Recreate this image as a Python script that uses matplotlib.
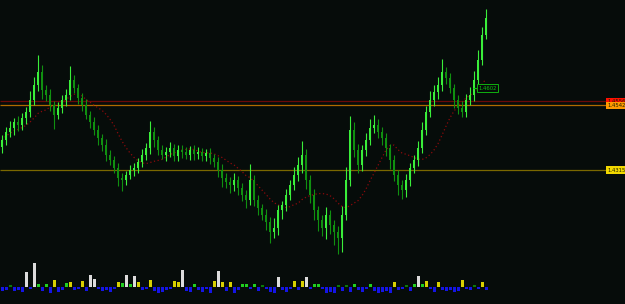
import numpy as np
import pandas as pd
import matplotlib
matplotlib.use("Agg")
import matplotlib.pyplot as plt

# ---------------- data (prices in pips, 1.4315 -> 14315) ----------------
first_open = 14395
closes = [14420, 14448, 14462, 14483, 14472, 14497, 14518, 14560, 14612, 14658,
          14595, 14578, 14542, 14508, 14532, 14560, 14578, 14630, 14602, 14567,
          14542, 14508, 14483, 14455, 14427, 14402, 14368, 14350, 14322, 14287,
          14280, 14298, 14315, 14322, 14343, 14368, 14392, 14448, 14420, 14385,
          14368, 14378, 14392, 14364, 14385, 14378, 14368, 14385, 14371, 14378,
          14364, 14374, 14357, 14343, 14315, 14287, 14273, 14262, 14280, 14252,
          14228, 14210, 14280, 14210, 14182, 14158, 14133, 14098, 14112, 14175,
          14192, 14228, 14262, 14298, 14332, 14368, 14280, 14228, 14175, 14140,
          14112, 14158, 14122, 14098, 14077, 14158, 14280, 14455, 14385, 14332,
          14385, 14420, 14462, 14472, 14448, 14427, 14392, 14350, 14298, 14262,
          14245, 14280, 14322, 14350, 14392, 14455, 14518, 14560, 14588, 14612,
          14658, 14637, 14602, 14560, 14532, 14518, 14560, 14578, 14630, 14700,
          14788, 14847]
upper_wick = [19, 16, 24, 13, 22, 16, 19, 32, 29, 60,
              24, 16, 19, 13, 22, 16, 19, 50, 19, 13,
              16, 22, 13, 19, 16, 13, 22, 16, 13, 19,
              16, 13, 19, 16, 13, 22, 19, 40, 16, 13,
              19, 16, 22, 13, 16, 19, 16, 13, 16, 19,
              13, 16, 19, 13, 16, 22, 19, 16, 26, 13,
              19, 16, 55, 19, 16, 13, 22, 16, 35, 19,
              16, 22, 19, 26, 29, 50, 19, 16, 22, 13,
              19, 29, 16, 19, 22, 32, 45, 50, 29, 22,
              19, 26, 32, 35, 22, 19, 16, 13, 19, 16,
              19, 22, 16, 19, 26, 29, 22, 32, 26, 29,
              45, 19, 16, 13, 19, 26, 22, 29, 32, 35,
              29, 32]
lower_wick = [22, 19, 16, 26, 19, 16, 22, 19, 16, 19,
              32, 22, 19, 48, 16, 19, 22, 19, 16, 22,
              19, 16, 22, 19, 26, 19, 22, 16, 19, 29,
              40, 19, 16, 22, 19, 16, 19, 22, 26, 19,
              16, 22, 19, 16, 19, 22, 16, 19, 22, 16,
              19, 16, 22, 19, 26, 32, 22, 29, 19, 26,
              22, 29, 19, 22, 26, 19, 29, 40, 22, 26,
              32, 22, 19, 16, 22, 26, 32, 29, 35, 38,
              29, 40, 32, 45, 55, 48, 19, 22, 26, 29,
              19, 22, 19, 16, 22, 26, 29, 32, 22, 35,
              32, 26, 22, 19, 22, 16, 19, 16, 22, 26,
              19, 22, 19, 29, 22, 19, 16, 19, 22, 16,
              19, 16]
volume_osc = [-4, -3, 2, -4, -3, -5, 15, -2, 24, 3,
              -4, 3, -6, 7, -5, -3, 4, 5, -3, -2,
              6, -4, 12, 8, -2, -4, -3, -5, -2, 5,
              4, 12, 3, 11, 5, -3, -2, 7, -4, -6,
              -5, -3, -2, 6, 5, 17, -4, -5, 3, -3,
              -5, -2, -6, 6, 16, 5, -4, 5, -6, -3,
              3, 3, -2, 3, -4, 2, -2, -5, -6, 10,
              -3, -5, -2, 6, -3, 6, 10, -2, 3, 3,
              -2, -6, -5, -6, 2, -4, 2, -5, 3, -3,
              -5, -2, 3, -4, -6, -5, -4, -6, 5, -3,
              -2, 2, -4, 3, 11, 3, 6, -2, -5, 5,
              -3, -4, -3, -5, -4, 7, -2, -3, 2, -2,
              5, -3]
level_prices = [14556, 14542, 14315]
level_labels = ["1.4556", "1.4542", "1.4315"]
marker_price = 14602
marker_label = "1.4602"
ma_period = 12

# ---------------- styling ----------------
BG = "#060c0a"
UP = "#3aee3a"
DOWN = "#109010"
line_colors = ["#6a0808", "#b06a00", "#7a6800"]
box_colors = ["#ff1000", "#ff9a00", "#f2d800"]

n = len(closes)
idx = np.arange(n)
c = np.array(closes, float) / 10000
o = np.concatenate([[first_open], closes[:-1]]).astype(float) / 10000
hi = np.maximum(o, c) + np.array(upper_wick) / 10000
lo = np.minimum(o, c) - np.array(lower_wick) / 10000

W, H = 625, 304
fig = plt.figure(figsize=(W / 100, H / 100), dpi=100, facecolor=BG)

def px2idx(x):
    return (x - 2) / 4.0

ax = fig.add_axes([0, 49 / H, 1, 255 / H])
ax.set_facecolor(BG)
ax.set_xlim(px2idx(0), px2idx(W))
ax.set_ylim(1.40175, 1.4910)
ax.axis("off")

# horizontal levels
for p, col in zip(level_prices, line_colors):
    ax.hlines(p / 10000, px2idx(0), px2idx(606), color=col, lw=0.9, zorder=1)

# moving average (dotted)
ma = pd.Series(c).rolling(ma_period, min_periods=1).mean()
ax.plot(idx, ma, color="#8a0a0a", lw=0.9, ls=(0, (1, 2)), zorder=2)

# candles
cols = np.where(c >= o, UP, DOWN)
ax.vlines(idx, lo, hi, colors=cols, lw=0.8, zorder=3)
ax.bar(idx, np.abs(c - o) + 0.00005, bottom=np.minimum(o, c), width=0.5,
       color=cols, linewidth=0, zorder=4)

# right-side price labels
for p, lab, bc in zip(level_prices, level_labels, box_colors):
    ax.text(px2idx(607), p / 10000, lab, fontsize=3.8, color="#202000",
            ha="left", va="center", family="DejaVu Sans",
            bbox=dict(boxstyle="square,pad=0.2", fc=bc, ec=bc, lw=0), zorder=6)

# marker label
ax.hlines(marker_price / 10000, px2idx(473), px2idx(478), color="#10c010", lw=0.8, zorder=5)
ax.text(px2idx(478), marker_price / 10000, marker_label, fontsize=3.8, color="#10c010",
        ha="left", va="center", family="DejaVu Sans",
        bbox=dict(boxstyle="square,pad=0.25", fc=BG, ec="#10b010", lw=0.7), zorder=6)

# ---------------- volume oscillator ----------------
axv = fig.add_axes([0, 0, 1, 49 / H])
axv.set_facecolor(BG)
axv.set_xlim(px2idx(0), px2idx(W))
axv.set_ylim(-17, 32)
axv.axis("off")
vol = np.array(volume_osc, float)
vcols = []
for v in vol:
    if v < 0:
        vcols.append("#1414e6")
    elif v >= 8:
        vcols.append("#dcdcdc")
    elif v >= 5:
        vcols.append("#d8d000")
    elif v >= 3:
        vcols.append("#20d020")
    else:
        vcols.append("#0a7a0a")
axv.bar(idx, vol, width=0.75, color=vcols, linewidth=0)

fig.savefig("out.png", dpi=100, facecolor=BG)
